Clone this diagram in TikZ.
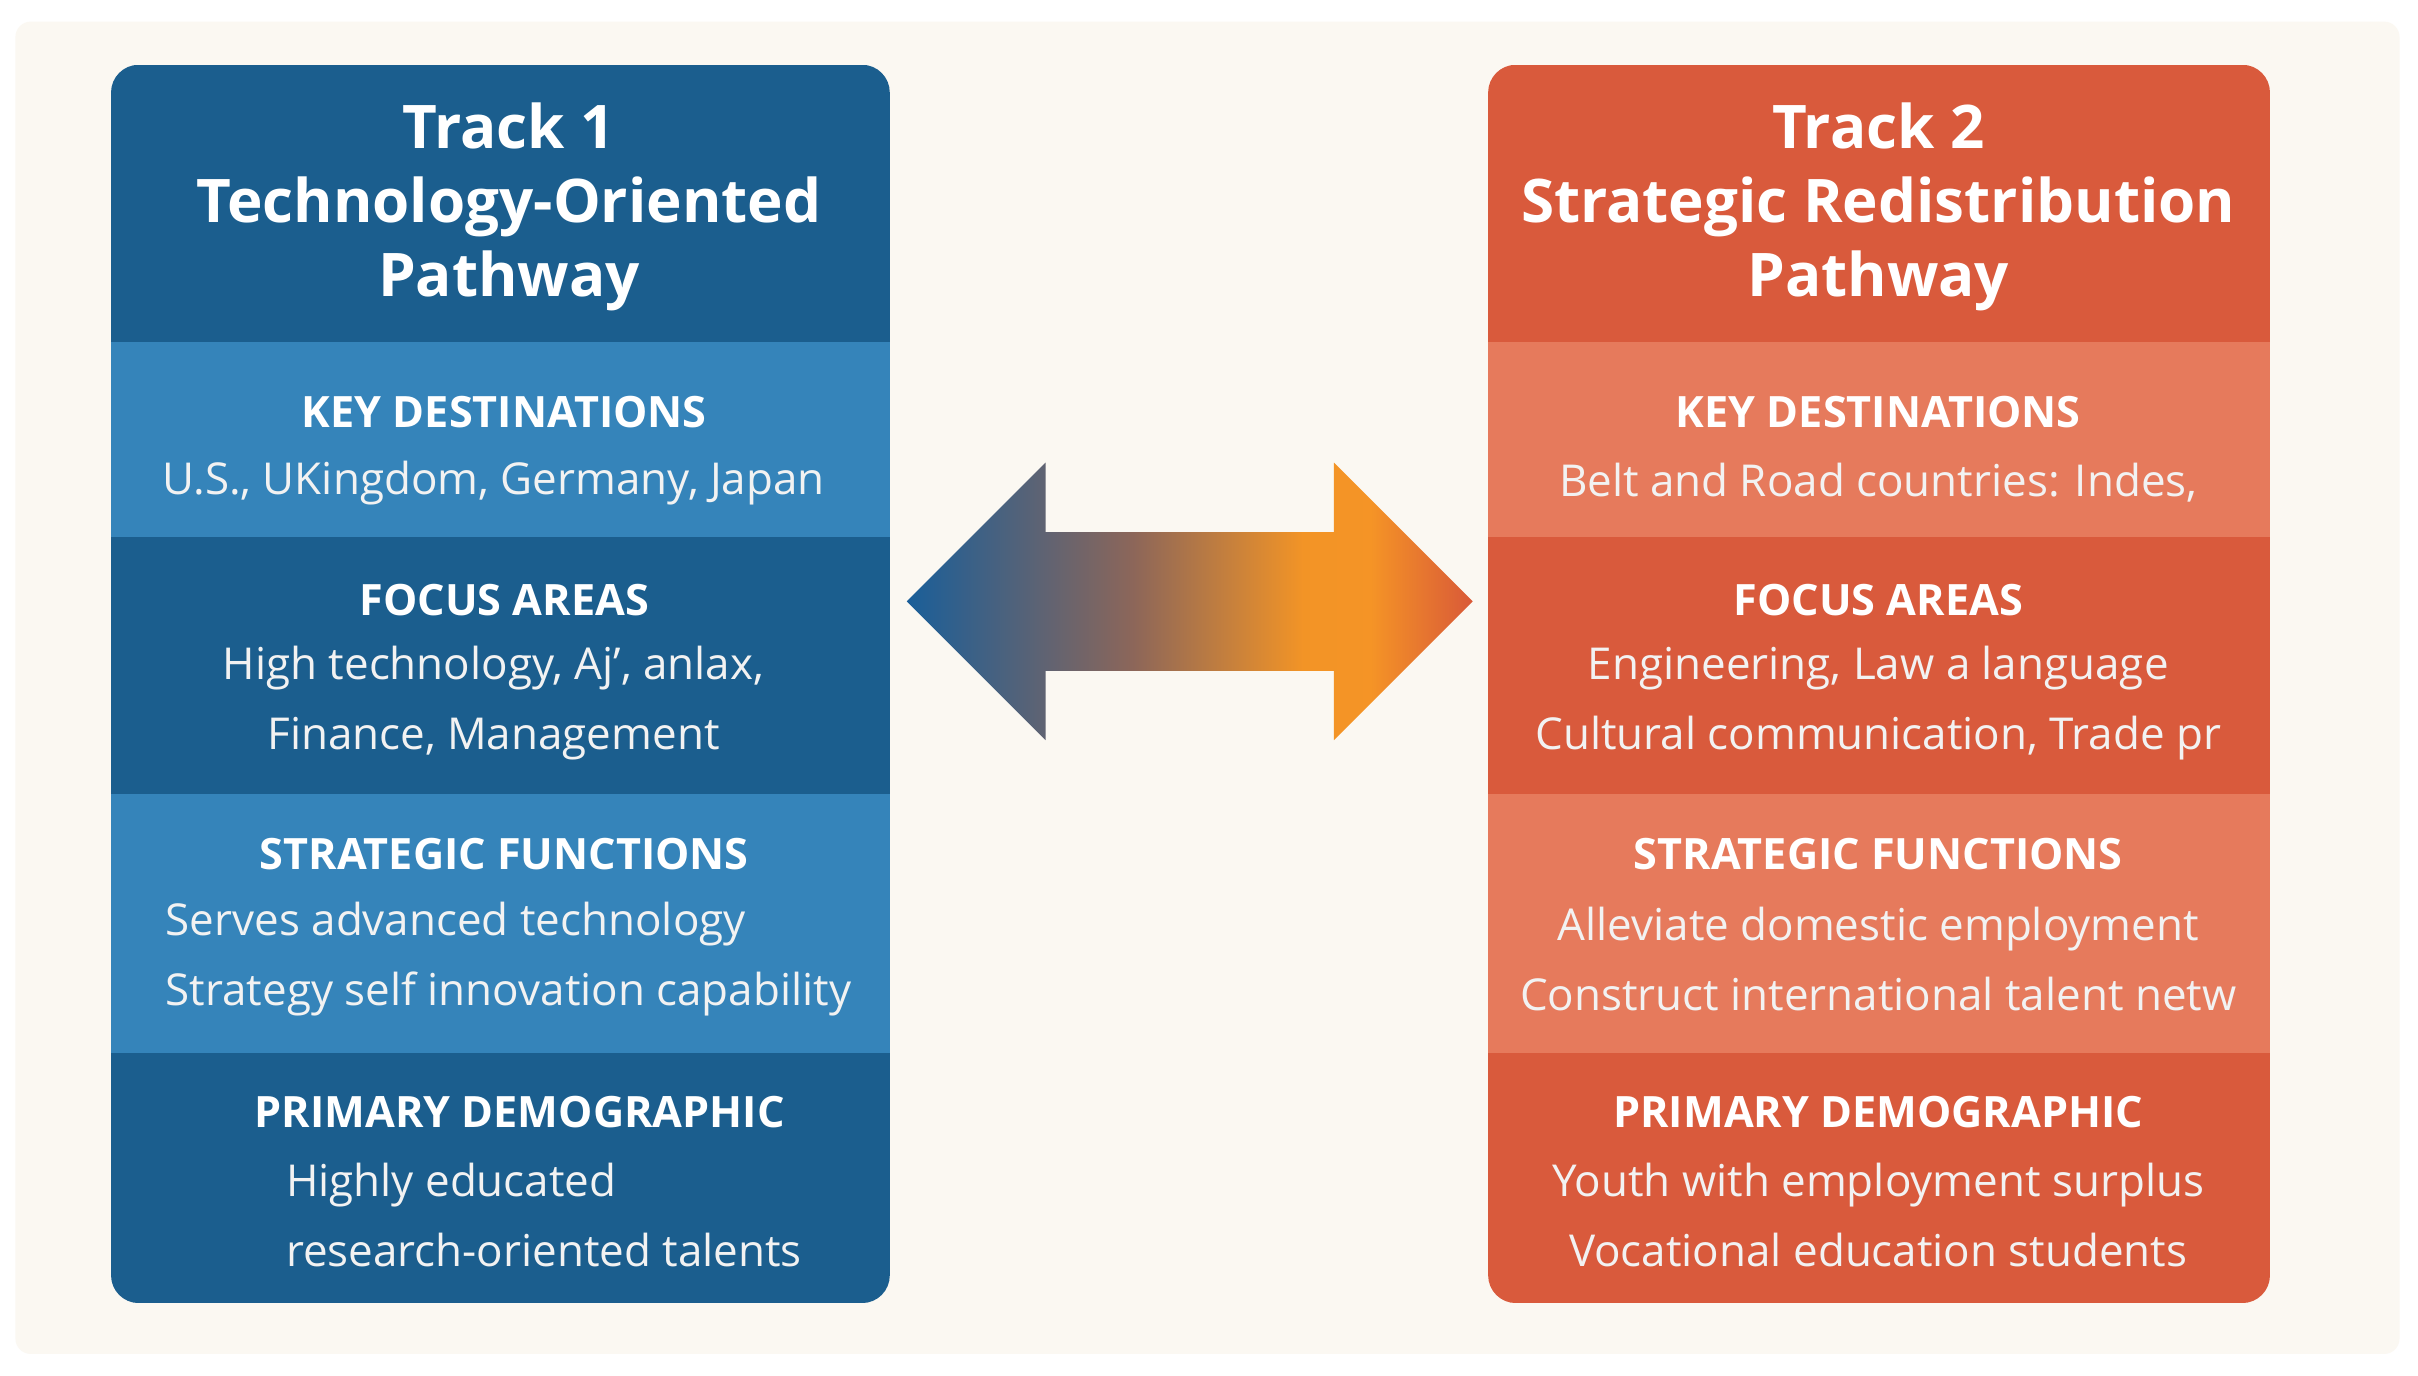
\documentclass[tikz,border=0pt]{standalone}
\usepackage{fontspec}
\setmainfont{Open Sans}
\pgfdeclarehorizontalshading{arr}{100bp}{rgb(0bp)=(0.10,0.37,0.60); rgb(25bp)=(0.10,0.37,0.60); rgb(45bp)=(0.55,0.40,0.35); rgb(60bp)=(0.95,0.58,0.15); rgb(66bp)=(0.96,0.58,0.15); rgb(75bp)=(0.85,0.35,0.22); rgb(100bp)=(0.85,0.35,0.22)}
\begin{document}
\begin{tikzpicture}[x=1pt,y=-1pt,
  hd/.style={text=white,font=\fontsize{39}{48}\selectfont\bfseries,align=center},
  lab/.style={text=white,font=\fontsize{28}{30}\selectfont\bfseries},
  bd/.style={text=white!95!black,font=\fontsize{28.5}{45}\selectfont,align=center}]
\definecolor{bdark}{HTML}{1B5E8E}\definecolor{blight}{HTML}{3584BA}
\definecolor{odark}{HTML}{D95A3C}\definecolor{olight}{HTML}{E67A5C}
\fill[white] (0,0) rectangle (1568,892);
\fill[rounded corners=10,fill={rgb,255:red,251;green,248;blue,242}] (10,14) rectangle (1556,878);
\useasboundingbox (0,0) rectangle (1568,892);
% left panel
\begin{scope}
\clip[rounded corners=18] (72,42) rectangle (577,845);
\fill[bdark] (72,42) rectangle (577,845);
\fill[blight] (72,222) rectangle (577,348);
\fill[blight] (72,515) rectangle (577,683);
\end{scope}
\node[hd] (t1) at (330,134) {Track 1\\Technology-Oriented\\Pathway};
\node[lab] (l1a) at (327,267) {KEY DESTINATIONS};
\node[bd] (b1a) at (320,313) {U.S., UKingdom, Germany,\ Japan};
\node[lab] (l1b) at (327,389) {FOCUS AREAS};
\node[bd] (b1b) at (320,456) {High technology, Aj', anlax,\\Finance, Management};
\node[lab] (l1c) at (327,554) {STRATEGIC FUNCTIONS};
\node[bd,align=left,anchor=west] (b1c) at (104,622) {Serves advanced technology\\Strategy self innovation capability};
\node[lab] (l1d) at (337,721) {PRIMARY DEMOGRAPHIC};
\node[bd,align=left,anchor=west] (b1d) at (182,788) {Highly educated\\research-oriented talents};
% right panel
\begin{scope}
\clip[rounded corners=18] (965,42) rectangle (1472,845);
\fill[odark] (965,42) rectangle (1472,845);
\fill[olight] (965,222) rectangle (1472,348);
\fill[olight] (965,515) rectangle (1472,683);
\end{scope}
\node[hd] (t2) at (1218,134) {Track 2\\Strategic Redistribution\\Pathway};
\node[lab] (l2a) at (1218,267) {KEY DESTINATIONS};
\node[bd] (b2a) at (1218,313) {Belt and Road countries: Indes,};
\node[lab] (l2b) at (1218,389) {FOCUS AREAS};
\node[bd] (b2b) at (1218,456) {Engineering, Law a language\\Cultural communication, Trade pr};
\node[lab] (l2c) at (1218,554) {STRATEGIC FUNCTIONS};
\node[bd] (b2c) at (1218,622) {Alleviate domestic employment\\Construct international talent netw};
\node[lab] (l2d) at (1218,721) {PRIMARY DEMOGRAPHIC};
\node[bd] (b2d) at (1218,788) {Youth with employment surplus\\Vocational education students};
% arrow
\shade[shading=arr]
  (588,390) -- (678,300) -- (678,345) -- (865,345) -- (865,300) -- (955,390)
  -- (865,480) -- (865,435) -- (678,435) -- (678,480) -- cycle;
\end{tikzpicture}
\end{document}
